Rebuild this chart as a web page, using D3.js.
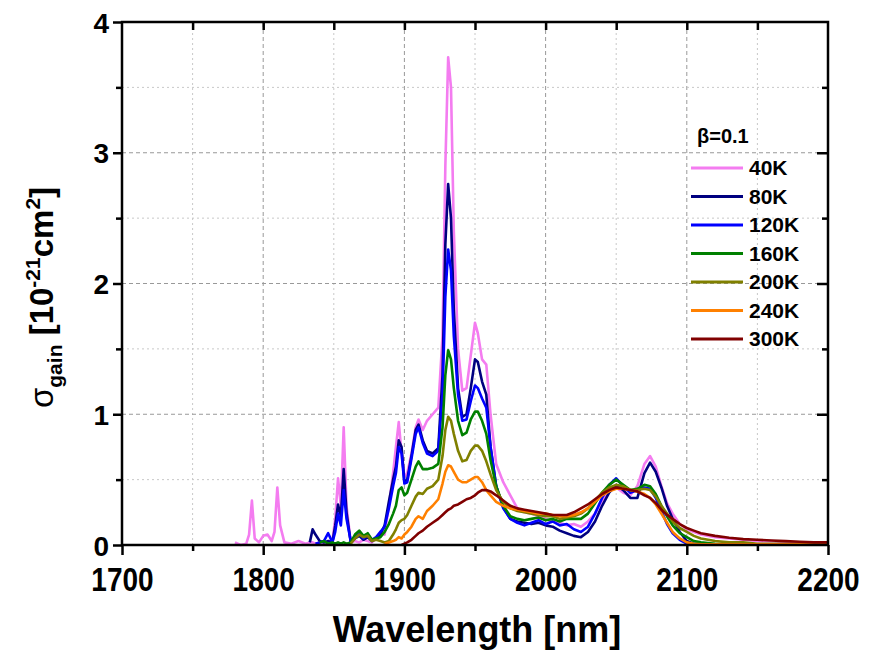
<!DOCTYPE html>
<html>
<head>
<meta charset="utf-8">
<script src="https://cdn.jsdelivr.net/npm/d3@7"></script>
<style>
  body { margin: 0; background: #fff; }
  text { font-family: "Liberation Sans", Arial, sans-serif; font-weight: bold; }
</style>
</head>
<body>
<script>
// wavelength grid, nm
const wl = [1780,1784,1788,1790,1792,1794,1797,1800,1803,1806,1808,1810,1812,1815,1820,1825,1830,1833,1835,1837,
  1840,1843,1846,1849,1851,1853,1855,1857,1859,1862,1865,1868,1871,1874,1877,1880,1883,1886,1889,1892,
  1894,1896,1898,1900,1902,1905,1908,1910,1913,1916,1920,1924,1927,1929,1931,1933,1935,1938,1941,1944,
  1947,1950,1952,1955,1958,1961,1965,1970,1975,1980,1985,1990,1995,2000,2005,2010,2015,2020,2025,2030,
  2035,2040,2045,2050,2055,2060,2065,2070,2074,2078,2082,2086,2090,2095,2100,2105,2110,2120,2130,2140,
  2150,2160,2170,2180,2190,2200];

const _ = null;
const s40 = [0.02,0.0,0.01,0.08,0.34,0.05,0.02,0.07,0.08,0.03,0.1,0.44,0.15,0.02,0.01,0.03,0.01,0.02,0.02,0.01,
  0.02,0.01,0.02,0.03,0.2,0.51,0.3,0.9,0.3,0.02,0.03,0.02,0.04,0.03,0.02,0.05,0.1,0.08,0.3,0.55,
  0.75,0.94,0.7,0.52,0.55,0.7,0.9,0.96,0.88,0.95,1.0,1.05,1.6,2.9,3.73,3.5,2.4,1.5,1.18,1.2,
  1.45,1.7,1.62,1.42,1.38,1.0,0.62,0.48,0.38,0.28,0.25,0.24,0.22,0.2,0.18,0.17,0.15,0.16,0.14,0.18,
  0.24,0.34,0.42,0.44,0.4,0.38,0.45,0.62,0.68,0.6,0.45,0.32,0.24,0.16,0.12,0.1,0.08,0.06,0.05,0.04,
  0.03,0.03,0.02,0.02,0.02,0.01];
const s80 = [_,_,_,_,_,_,_,_,_,_,_,_,_,_,_,_,_,0.02,0.12,0.08,
  0.03,0.02,0.03,0.02,0.15,0.31,0.22,0.58,0.25,0.02,0.05,0.07,0.04,0.06,0.03,0.05,0.08,0.15,0.33,0.5,
  0.6,0.8,0.75,0.48,0.5,0.68,0.88,0.92,0.8,0.72,0.7,0.74,1.3,2.3,2.76,2.5,1.8,1.2,0.98,1.0,
  1.2,1.42,1.4,1.25,1.15,0.75,0.45,0.29,0.2,0.18,0.17,0.16,0.17,0.15,0.14,0.11,0.09,0.07,0.06,0.1,
  0.18,0.3,0.4,0.46,0.42,0.36,0.36,0.55,0.63,0.56,0.44,0.3,0.2,0.1,0.03,0.01,0.01,0.005,0.005,0.005,
  0.005,0.005,0.005,0.005,0.005,0.005];
const s120 = [_,_,_,_,_,_,_,_,_,_,_,_,_,_,_,_,_,_,_,0.01,
  0.02,0.03,0.09,0.02,0.1,0.24,0.15,0.42,0.2,0.03,0.06,0.09,0.05,0.08,0.04,0.06,0.1,0.14,0.28,0.45,
  0.55,0.75,0.7,0.47,0.48,0.66,0.85,0.9,0.78,0.7,0.68,0.72,1.15,1.9,2.26,2.1,1.6,1.15,0.95,0.96,
  1.1,1.22,1.2,1.12,1.05,0.75,0.45,0.28,0.2,0.17,0.15,0.17,0.19,0.16,0.18,0.15,0.16,0.12,0.1,0.14,
  0.24,0.36,0.46,0.51,0.45,0.4,0.42,0.44,0.43,0.36,0.26,0.16,0.09,0.04,0.01,0.005,0.005,0.005,0.005,0.005,
  0.005,0.005,0.005,0.005,0.005,0.005];
const s160 = [_,_,_,_,_,_,_,_,_,_,_,_,_,_,_,_,_,_,_,_,
  0.02,0.03,0.01,0.02,0.01,0.02,0.01,0.02,0.01,0.02,0.08,0.11,0.07,0.09,0.04,0.05,0.06,0.1,0.16,0.24,
  0.3,0.42,0.44,0.38,0.4,0.5,0.6,0.64,0.58,0.58,0.59,0.62,0.9,1.3,1.49,1.42,1.2,0.95,0.84,0.86,
  0.96,1.02,1.02,0.95,0.85,0.65,0.45,0.3,0.22,0.2,0.19,0.2,0.21,0.19,0.2,0.18,0.2,0.2,0.2,0.24,
  0.32,0.4,0.46,0.5,0.46,0.42,0.43,0.46,0.45,0.39,0.3,0.22,0.15,0.09,0.06,0.03,0.02,0.01,0.005,0.005,
  0.005,0.005,0.005,0.005,0.005,0.005];
const s200 = [_,_,_,_,_,_,_,_,_,_,_,_,_,_,_,_,_,_,_,_,
  _,_,_,_,_,_,_,_,_,0.01,0.05,0.08,0.06,0.07,0.03,0.04,0.03,0.02,0.03,0.08,
  0.12,0.17,0.19,0.2,0.23,0.3,0.37,0.4,0.39,0.43,0.45,0.5,0.68,0.88,0.98,0.95,0.85,0.72,0.64,0.65,
  0.72,0.76,0.76,0.72,0.64,0.54,0.42,0.33,0.28,0.26,0.25,0.24,0.23,0.22,0.22,0.2,0.21,0.22,0.24,0.28,
  0.34,0.4,0.44,0.46,0.45,0.42,0.42,0.43,0.42,0.37,0.3,0.24,0.18,0.13,0.1,0.07,0.05,0.03,0.02,0.02,
  0.01,0.01,0.01,0.01,0.01,0.01];
const s240 = [_,_,_,_,_,_,_,_,_,_,_,_,_,_,_,_,_,_,_,_,
  _,_,_,_,_,_,_,_,_,_,_,_,_,_,_,_,_,0.01,0.02,0.03,
  0.04,0.06,0.05,0.08,0.1,0.14,0.2,0.22,0.2,0.26,0.3,0.35,0.47,0.56,0.61,0.6,0.56,0.5,0.48,0.48,
  0.5,0.52,0.52,0.48,0.42,0.38,0.33,0.3,0.28,0.27,0.26,0.25,0.24,0.24,0.23,0.22,0.22,0.23,0.25,0.28,
  0.33,0.38,0.41,0.43,0.43,0.42,0.41,0.39,0.36,0.31,0.24,0.17,0.1,0.05,0.02,0.01,0.005,0.005,0.005,0.005,
  0.005,0.005,0.005,0.005,0.005,0.005];
const s300 = [_,_,_,_,_,_,_,_,_,_,_,_,_,_,_,_,_,_,_,_,
  _,_,_,_,_,_,_,_,_,_,_,_,_,_,_,_,_,_,_,_,
  _,_,0.0,0.01,0.02,0.04,0.07,0.09,0.11,0.14,0.17,0.2,0.23,0.25,0.27,0.28,0.3,0.31,0.33,0.35,
  0.36,0.38,0.4,0.42,0.42,0.41,0.38,0.34,0.3,0.28,0.27,0.26,0.25,0.24,0.23,0.23,0.23,0.25,0.28,0.31,
  0.35,0.39,0.42,0.44,0.43,0.42,0.41,0.38,0.36,0.32,0.27,0.23,0.2,0.16,0.13,0.11,0.09,0.07,0.055,0.045,
  0.04,0.035,0.03,0.025,0.02,0.02];

const labels = ["40K", "80K", "120K", "160K", "200K", "240K", "300K"];
const colors = ["#f47cf0", "#000080", "#0000ff", "#008000", "#808000", "#ff8000", "#800000"];
const series = [s40, s80, s120, s160, s200, s240, s300];

const W = 870, H = 653;
const margin = {left: 122, right: 42, top: 22, bottom: 108};

const svg = d3.select('body').append('svg')
  .attr('width', W)
  .attr('height', H);

const x = d3.scaleLinear().domain([1700, 2200]).range([margin.left, W - margin.right]);
const y = d3.scaleLinear().domain([0, 4]).range([H - margin.bottom, margin.top]);

const xMinor = d3.range(1750, 2200, 100);
const xMajor = d3.range(1800, 2200, 100);
const yMinor = d3.range(0.5, 4, 1);
const yMajor = [1, 2, 3];

// grid
const grid = svg.append('g');
grid.selectAll('.gxm').data(xMinor).enter().append('line')
  .attr('x1', d => x(d)).attr('x2', d => x(d))
  .attr('y1', y(0)).attr('y2', y(4))
  .attr('stroke', '#c8c8c8').attr('stroke-width', 1).attr('stroke-dasharray', '2,3');
grid.selectAll('.gxM').data(xMajor).enter().append('line')
  .attr('x1', d => x(d)).attr('x2', d => x(d))
  .attr('y1', y(0)).attr('y2', y(4))
  .attr('stroke', '#999').attr('stroke-width', 1).attr('stroke-dasharray', '4,3');
grid.selectAll('.gym').data(yMinor).enter().append('line')
  .attr('x1', x(1700)).attr('x2', x(2200))
  .attr('y1', d => y(d)).attr('y2', d => y(d))
  .attr('stroke', '#c8c8c8').attr('stroke-width', 1).attr('stroke-dasharray', '2,3');
grid.selectAll('.gyM').data(yMajor).enter().append('line')
  .attr('x1', x(1700)).attr('x2', x(2200))
  .attr('y1', d => y(d)).attr('y2', d => y(d))
  .attr('stroke', '#999').attr('stroke-width', 1).attr('stroke-dasharray', '4,3');

// curves
const line = d3.line()
  .defined(d => d[1] != null)
  .x(d => x(d[0]))
  .y(d => y(d[1]));

series.forEach((s, i) => {
  svg.append('path')
    .datum(wl.map((w, j) => [w, s[j]]))
    .attr('fill', 'none')
    .attr('stroke', colors[i])
    .attr('stroke-width', 2.6)
    .attr('stroke-linejoin', 'round')
    .attr('d', line);
});

// axes
function styleAxis(g, size) {
  g.select('.domain').remove();
  g.selectAll('.tick line').attr('stroke', '#000').attr('stroke-width', 2.5);
  g.selectAll('.tick text')
    .attr('font-size', size)
    .attr('fill', '#000');
}

const bottom = svg.append('g').attr('transform', `translate(0,${y(0)})`);
bottom.call(d3.axisBottom(x).tickValues(d3.range(1700, 2201, 100)).tickFormat(d3.format('d')).tickSize(10).tickPadding(9));
styleAxis(bottom, 28);
bottom.selectAll('.tick text').attr('transform', 'scale(1,1.18)');
svg.append('g').attr('transform', `translate(0,${y(0)})`)
  .call(d3.axisBottom(x).tickValues(d3.range(1750, 2200, 100)).tickFormat('').tickSize(6))
  .call(g => styleAxis(g, 0));

const left = svg.append('g').attr('transform', `translate(${x(1700)},0)`);
left.call(d3.axisLeft(y).tickValues([0, 1, 2, 3, 4]).tickFormat(d3.format('d')).tickSize(9).tickPadding(4));
styleAxis(left, 28);
left.selectAll('.tick text').attr('dy', '0.36em');
svg.append('g').attr('transform', `translate(${x(1700)},0)`)
  .call(d3.axisLeft(y).tickValues(yMinor).tickFormat('').tickSize(6))
  .call(g => styleAxis(g, 0));

// top and right inward ticks
svg.append('g').attr('transform', `translate(0,${y(4)})`)
  .call(d3.axisBottom(x).tickValues(d3.range(1750, 2200, 50)).tickFormat('').tickSize(8))
  .call(g => styleAxis(g, 0));
svg.append('g').attr('transform', `translate(${x(2200)},0)`)
  .call(d3.axisLeft(y).tickValues(yMajor).tickFormat('').tickSize(11))
  .call(g => styleAxis(g, 0));
svg.append('g').attr('transform', `translate(${x(2200)},0)`)
  .call(d3.axisLeft(y).tickValues(yMinor).tickFormat('').tickSize(6))
  .call(g => styleAxis(g, 0));

// frame
svg.append('rect')
  .attr('x', x(1700)).attr('y', y(4))
  .attr('width', x(2200) - x(1700)).attr('height', y(0) - y(4))
  .attr('fill', 'none').attr('stroke', '#000').attr('stroke-width', 2.5);

// axis titles
svg.append('text')
  .attr('x', (x(1700) + x(2200)) / 2 + 2)
  .attr('y', 642)
  .attr('text-anchor', 'middle')
  .attr('font-size', 36)
  .text('Wavelength [nm]');

const yt = svg.append('text')
  .attr('transform', `translate(53,${(y(0) + y(4)) / 2 + 14}) rotate(-90)`)
  .attr('text-anchor', 'middle')
  .attr('font-size', 33);
yt.append('tspan').attr('font-weight', 'normal').text('σ');
yt.append('tspan').attr('font-size', 21).attr('dy', 9).text('gain');
yt.append('tspan').attr('dy', -9).text(' [10');
yt.append('tspan').attr('font-size', 21).attr('dy', -13).text('-21');
yt.append('tspan').attr('dy', 13).text('cm');
yt.append('tspan').attr('font-size', 21).attr('dy', -13).text('2');
yt.append('tspan').attr('dy', 13).text(']');

// legend
const legend = svg.append('g');
legend.append('text')
  .attr('x', 697).attr('y', 143)
  .attr('font-size', 20)
  .text('β=0.1');
labels.forEach((lab, i) => {
  const ly = 168 + i * 28.5;
  legend.append('line')
    .attr('x1', 691).attr('x2', 743)
    .attr('y1', ly).attr('y2', ly)
    .attr('stroke', colors[i]).attr('stroke-width', 3);
  legend.append('text')
    .attr('x', 749).attr('y', ly + 7)
    .attr('font-size', 21)
    .text(lab);
});
</script>
</body>
</html>
